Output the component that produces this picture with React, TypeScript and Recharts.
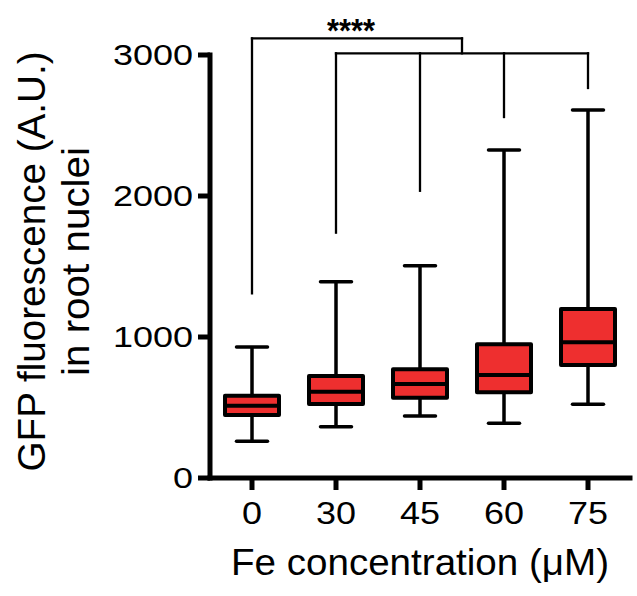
import { Bar, ComposedChart, ReferenceDot, ReferenceLine, XAxis, YAxis } from 'recharts';

const categories = ['0', '30', '45', '60', '75'];
const whiskerLow = [260, 364, 440, 388, 523];
const q1 = [447, 525, 570, 608, 801];
const median = [513, 612, 667, 730, 962];
const q3 = [584, 723, 771, 948, 1199];
const whiskerHigh = [929, 1392, 1506, 2326, 2610];

const yTicks = [0, 1000, 2000, 3000];

// significance bracket: control vs every Fe treatment
const bracketTop = 3118;
const bracketLow = 3012;
const dropEnds = [1310, 1740, 2037, 2560, 2766];
const stars = '****';

const FONT = '"Liberation Sans", Arial, Helvetica, sans-serif';
const BOX_RED = '#EE2F2F';

const data = categories.map((cat, i) => ({
  cat,
  idx: i,
  range: [whiskerLow[i], whiskerHigh[i]],
  lo: whiskerLow[i],
  q1: q1[i],
  med: median[i],
  q3: q3[i],
  hi: whiskerHigh[i],
}));

const groupMid = (1 + categories.length - 1) / 2;
const bracketSegments = [
  [{ x: 0, y: bracketTop }, { x: groupMid, y: bracketTop }],
  [{ x: groupMid, y: bracketTop }, { x: groupMid, y: bracketLow }],
  [{ x: 1, y: bracketLow }, { x: categories.length - 1, y: bracketLow }],
  [{ x: 0, y: bracketTop }, { x: 0, y: dropEnds[0] }],
  ...dropEnds.slice(1).map((end, k) => [{ x: k + 1, y: bracketLow }, { x: k + 1, y: end }]),
];

function BoxShape(props: any) {
  const { x, y, width, height, payload } = props;
  if (!payload || height == null) return null;
  const { lo, hi } = payload;
  const py = (v: number) => y + (height * (hi - v)) / (hi - lo);
  const cx = x + width / 2;
  const half = 27;
  const cap = 15.5;
  return (
    <g>
      <line x1={cx} x2={cx} y1={py(hi)} y2={py(payload.q3)} stroke="#000" strokeWidth={3.5} />
      <line x1={cx} x2={cx} y1={py(payload.q1)} y2={py(lo)} stroke="#000" strokeWidth={3.5} />
      <line x1={cx - cap} x2={cx + cap} y1={py(hi)} y2={py(hi)} stroke="#000" strokeWidth={3.5} strokeLinecap="round" />
      <line x1={cx - cap} x2={cx + cap} y1={py(lo)} y2={py(lo)} stroke="#000" strokeWidth={3.5} strokeLinecap="round" />
      <rect
        x={cx - half}
        y={py(payload.q3)}
        width={half * 2}
        height={py(payload.q1) - py(payload.q3)}
        fill={BOX_RED}
        stroke="#000"
        strokeWidth={4}
        strokeLinejoin="round"
      />
      <line x1={cx - half} x2={cx + half} y1={py(payload.med)} y2={py(payload.med)} stroke="#000" strokeWidth={4} />
    </g>
  );
}

function YTick(props: any) {
  const { x, y, payload } = props;
  const s = String(payload.value);
  return (
    <text
      x={x}
      y={y}
      textAnchor="end"
      dominantBaseline="central"
      fontSize={29}
      fontFamily={FONT}
      fill="#000"
      textLength={s.length * 20}
      lengthAdjust="spacingAndGlyphs"
    >
      {s}
    </text>
  );
}

function XTick(props: any) {
  const { x, y, payload } = props;
  const s = String(payload.value);
  return (
    <text
      x={x}
      y={y + 32}
      textAnchor="middle"
      fontSize={32}
      fontFamily={FONT}
      fill="#000"
      textLength={s.length * 20}
      lengthAdjust="spacingAndGlyphs"
    >
      {s}
    </text>
  );
}

function XTitle(props: any) {
  const vb = props.viewBox || { x: 210, y: 478, width: 420, height: 118 };
  return (
    <text
      x={vb.x + vb.width / 2}
      y={vb.y + 97}
      textAnchor="middle"
      fontSize={37}
      fontFamily={FONT}
      fill="#000"
      textLength={378}
      lengthAdjust="spacingAndGlyphs"
    >
      Fe concentration (μM)
    </text>
  );
}

function YTitle(props: any) {
  const vb = props.viewBox || { x: 0, y: 55, width: 210, height: 423 };
  const cy = vb.y + vb.height / 2 - 5;
  return (
    <g fontFamily={FONT} fontSize={38} fill="#000">
      <text x={45} y={cy} transform={`rotate(-90, 45, ${cy})`} textAnchor="middle" textLength={420} lengthAdjust="spacingAndGlyphs">
        GFP fluorescence (A.U.)
      </text>
      <text x={89} y={cy} transform={`rotate(-90, 89, ${cy})`} textAnchor="middle" textLength={229} lengthAdjust="spacingAndGlyphs">
        in root nuclei
      </text>
    </g>
  );
}

function Stars(props: any) {
  const { cx, cy } = props;
  return (
    <text
      x={cx - 6}
      y={cy + 4}
      textAnchor="middle"
      fontSize={34}
      fontWeight="bold"
      fontFamily={FONT}
      fill="#000"
      textLength={48}
      lengthAdjust="spacingAndGlyphs"
    >
      {stars}
    </text>
  );
}

export default function App() {
  return (
    <div style={{ position: 'absolute', left: 0, top: 0, background: '#fff' }}>
      <ComposedChart width={637} height={596} data={data} margin={{ top: 55, right: 7, bottom: 0, left: 0 }}>
        <XAxis
          dataKey="cat"
          height={118}
          tickSize={12}
          tick={<XTick />}
          axisLine={{ stroke: '#000', strokeWidth: 5, strokeLinecap: 'square' }}
          tickLine={{ stroke: '#000', strokeWidth: 5 }}
          label={XTitle}
        />
        <XAxis
          xAxisId="num"
          dataKey="idx"
          type="number"
          domain={[-0.5, categories.length - 0.5]}
          allowDataOverflow
          hide
        />
        <YAxis
          width={210}
          domain={[0, 3000]}
          ticks={yTicks}
          tickSize={12}
          tickMargin={5}
          tick={<YTick />}
          axisLine={{ stroke: '#000', strokeWidth: 5, strokeLinecap: 'square' }}
          tickLine={{ stroke: '#000', strokeWidth: 5 }}
          label={YTitle}
        />
        <Bar dataKey="range" barSize={58} shape={<BoxShape />} isAnimationActive={false} />
        {bracketSegments.map((seg, i) => (
          <ReferenceLine
            key={i}
            xAxisId="num"
            segment={seg}
            stroke="#000"
            strokeWidth={2.3}
            strokeLinecap="square"
            ifOverflow="visible"
          />
        ))}
        <ReferenceDot xAxisId="num" x={(0 + groupMid) / 2} y={bracketTop} r={0} ifOverflow="visible" shape={<Stars />} />
      </ComposedChart>
    </div>
  );
}
